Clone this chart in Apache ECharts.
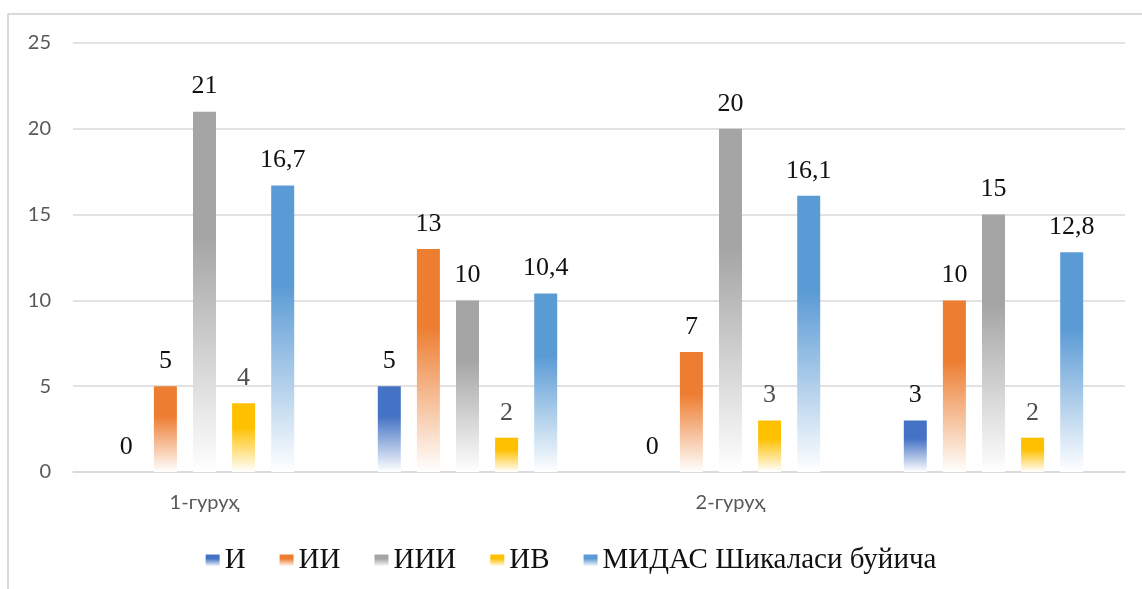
<!DOCTYPE html>
<html>
<head>
<meta charset="utf-8">
<script src="https://cdn.jsdelivr.net/npm/echarts@6/dist/echarts.min.js"></script>
<style>
  html, body { margin: 0; padding: 0; background: #fff; }
  #chart { width: 1142px; height: 589px; }
</style>
</head>
<body>
<div id="chart"></div>
<script>
// categories (only 1st and 3rd group carry a label in the original)
const categories = ['1-гуруҳ', '', '2-гуруҳ', ''];
const seriesNames = ['И', 'ИИ', 'ИИИ', 'ИВ', 'МИДАС Шикаласи буйича'];
const valsI = [0, 5, 0, 3];
const valsII = [5, 13, 7, 10];
const valsIII = [21, 10, 20, 15];
const valsIV = [4, 2, 3, 2];
const valsMidas = [16.7, 10.4, 16.1, 12.8];
const yTicks = { min: 0, max: 25, interval: 5 };

const colors = ['#4472C4', '#ED7D31', '#A5A5A5', '#FFC000', '#5B9BD5'];
const labelColors = ['#111', '#111', '#111', '#505050', '#111'];
const allVals = [valsI, valsII, valsIII, valsIV, valsMidas];

const chart = echarts.init(document.getElementById('chart'));

// bar fill: solid at top, fading to white at the base
function fade(c) {
  return new echarts.graphic.LinearGradient(0, 0, 0, 1, [
    { offset: 0, color: c },
    { offset: 0.35, color: c },
    { offset: 1, color: '#ffffff' }
  ]);
}

const series = seriesNames.map((name, i) => ({
  name: name,
  type: 'bar',
  data: allVals[i],
  barWidth: 23,
  barGap: '70%',
  itemStyle: { color: fade(colors[i]) },
  label: {
    show: true,
    position: 'top',
    distance: 12,
    fontFamily: 'Liberation Serif',
    fontSize: 26,
    color: labelColors[i],
    formatter: p => String(p.value).replace('.', ',')
  }
}));

const option = {
  animation: false,
  grid: { left: 73, right: 17, top: 43, bottom: 117 },
  legend: {
    top: 541,
    left: 'center',
    itemWidth: 14,
    itemHeight: 12,
    itemGap: 34,
    icon: 'rect',
    textStyle: { fontFamily: 'Liberation Serif', fontSize: 29, color: '#111' },
    data: seriesNames
  },
  xAxis: {
    type: 'category',
    data: categories,
    axisLine: { lineStyle: { color: '#D9D9D9', width: 1.5 } },
    axisTick: { show: false },
    axisLabel: { margin: 21, fontFamily: 'Lato', fontSize: 20, color: '#595959' }
  },
  yAxis: {
    type: 'value',
    min: yTicks.min,
    max: yTicks.max,
    interval: yTicks.interval,
    axisLine: { show: false },
    axisTick: { show: false },
    splitLine: { lineStyle: { color: '#D9D9D9', width: 1.5 } },
    axisLabel: { margin: 22, fontFamily: 'Lato', fontSize: 20, color: '#595959' }
  },
  graphic: [
    { type: 'line', shape: { x1: 8, y1: 14, x2: 1142, y2: 14 }, style: { stroke: '#D9D9D9', lineWidth: 2 } },
    { type: 'line', shape: { x1: 8, y1: 14, x2: 8, y2: 589 }, style: { stroke: '#D9D9D9', lineWidth: 2 } }
  ],
  series: series
};

chart.setOption(option);
</script>
</body>
</html>
